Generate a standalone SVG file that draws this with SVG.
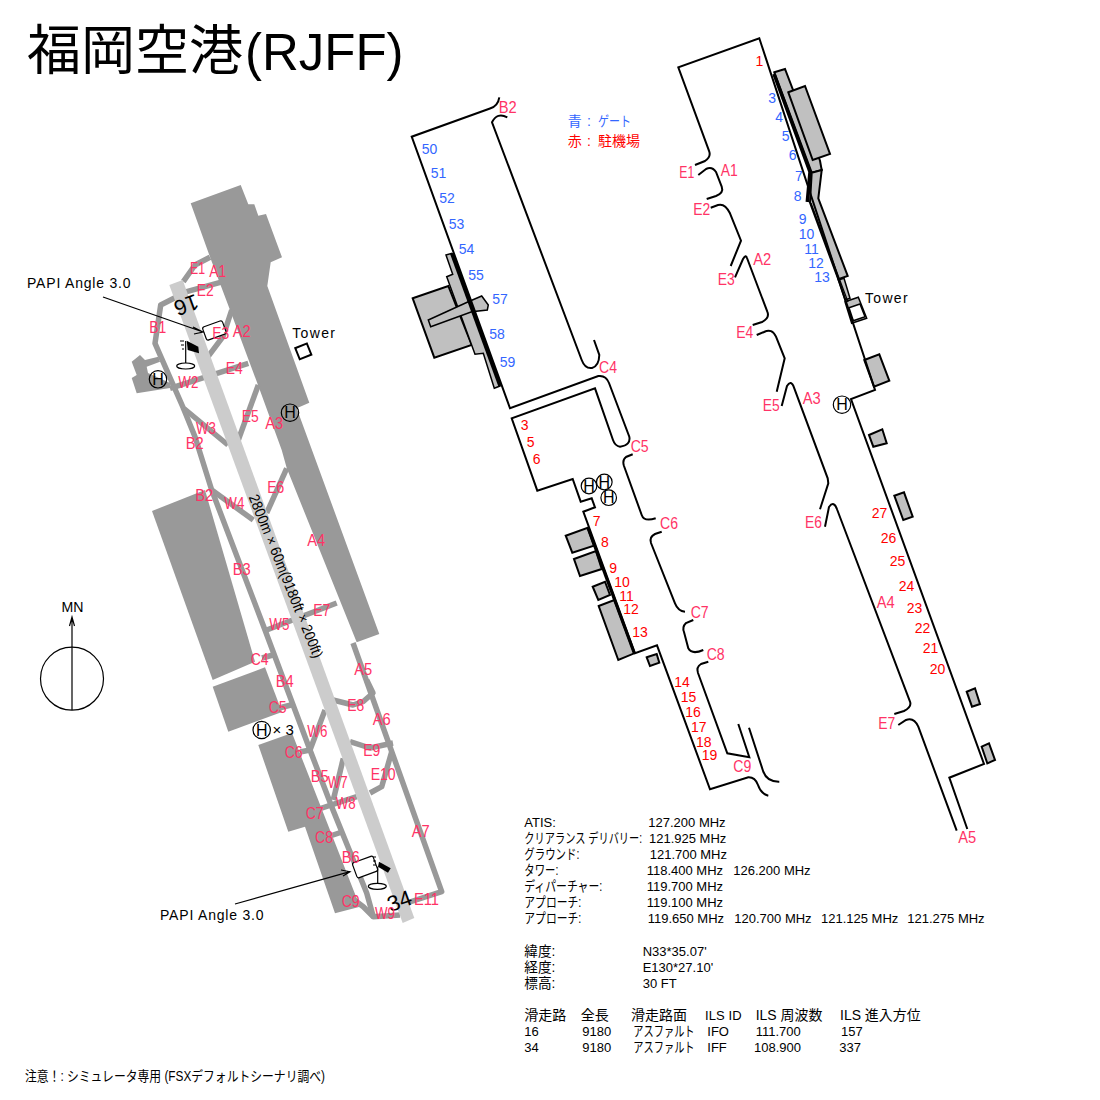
<svg xmlns="http://www.w3.org/2000/svg" width="1100" height="1100" viewBox="0 0 1100 1100">
<style>
text{font-family:"Liberation Sans","Noto Sans CJK JP",sans-serif;fill:#000}
.ap{fill:#999}
.tw{fill:none;stroke:#999;stroke-width:5.5;stroke-linejoin:round}
.rw{fill:#ccc}
.o{fill:none;stroke:#000;stroke-width:2;stroke-linejoin:miter}
.thk{fill:none;stroke:#000;stroke-width:3.5}
.b{fill:#c0c0c0;stroke:#000;stroke-width:2;stroke-linejoin:miter}
.ln{fill:none;stroke:#000;stroke-width:1.2}
.h{fill:#fff;stroke:#000;stroke-width:1.2}
.h1{fill:none;stroke:#000;stroke-width:1.2}
.hl{font-size:16px;text-anchor:middle}
.l{font-size:17px;fill:#ff3366}
.g{font-size:14px;fill:#3366ff}
.s{font-size:14px;fill:#f00}
.i{font-size:13px}
.k{font-size:14px}
.p{font-size:14px;letter-spacing:.4px}
</style>
<text id="title" x="27" y="70" font-size="54">福岡空港<tspan dx="2" font-size="51">(RJFF)</tspan></text>

<g id="north">
<circle class="ln" cx="72" cy="678.7" r="31.5"/>
<path class="ln" d="M72 710V618M69.5 626L72 617L74.5 626"/>
<text x="61.5" y="612.3" font-size="14.5" textLength="22" lengthAdjust="spacingAndGlyphs">MN</text>
</g>

<g id="overview">
<polygon class="ap" points="152,511 205,490 255,661.7 212.7,680"/>
<polygon class="ap" points="212.7,686.7 265,667.3 282,712 228.3,731.7"/>
<polygon class="ap" points="258.3,745 292,733 360,906.7 335,913.3 305,826.7 288.3,831.7"/>
<polygon class="ap" points="190.7,203.3 240.7,185 248.3,204.3 254.3,204.3 258.3,215.7 266,214 282,257.3 270.7,262.3 267.3,286 309.3,402.7 296.7,408.3 379.3,634 356.7,642.3 286.7,468 281.7,450 258,385 230,310 210,257"/>
<polygon class="ap" points="131.7,361.7 140,355 145,360 158.3,356.7 160,361.7 146.7,366.7 148,373 170,383 170,388 136.7,393.3 131.7,378 136.7,375"/>
<g id="overview-taxiways">
<path class="tw" d="M210 257.3L195 265L183.3 281.7"/>
<path class="tw" d="M223 281.7L186.7 291.7L160.7 305L155 343.3L183.3 408L228 445"/>
<path class="tw" d="M183.3 408L195 436.7L211.7 490L265 630L286.7 688L310 750L333 810L366.7 893L373.3 916.7L400 915"/>
<path class="tw" d="M231.7 310L223 336.7L208 356.7"/>
<path class="tw" d="M248.3 363.3L170 388.3"/>
<path class="tw" d="M258.3 385L238.3 440"/>
<path class="tw" d="M286.7 468.3L266.7 513"/>
<path class="tw" d="M211.7 490L253.3 520"/>
<path class="tw" d="M336.7 603L266.7 630"/>
<path class="tw" d="M262 658L273 655"/>
<path class="tw" d="M279 708L291 705"/>
<path class="tw" d="M353 643L441.7 891.7L406.7 903"/>
<path class="tw" d="M366.7 680L373 693L363 701.7L353 705L333 700"/>
<path class="tw" d="M350 741.7L370 748L393 743"/>
<path class="tw" d="M391.7 751.7L381.7 786.7L370 793"/>
<path class="tw" d="M325 710L310 750L300 752"/>
<path class="tw" d="M343.3 758.3L333.3 800"/>
<path class="tw" d="M356.7 796.7L306.7 813"/>
<path class="tw" d="M318 840L342 832"/>
<path class="tw" d="M350 896.7L363.3 906.7L373.3 916.7"/>
</g>
<polygon class="rw" points="169.3,285 182.7,280 414.3,918 402.7,923"/>
<text x="0" y="0" font-size="15" textLength="175" lengthAdjust="spacingAndGlyphs" transform="translate(248.4,497) rotate(68)">2800m × 60m(9180ft × 200ft)</text>
<text font-size="22" text-anchor="middle" transform="translate(183.7,298) rotate(160)">16</text>
<text font-size="22" text-anchor="middle" transform="translate(402,908) rotate(-20)">34</text>

<g id="papi-n">
<rect class="h" x="204" y="323.5" width="21" height="14" rx="2" transform="rotate(-20 214.3 330.7)"/>
<path class="ln" d="M103 297L203 332M193 327L203 332L194 334"/>
<path class="ln" d="M185.7 341V365"/>
<ellipse class="h" cx="185.7" cy="366" rx="9" ry="3"/>
<polygon fill="#000" points="186.7,340.7 198.3,346.7 199,353.3 187.7,350"/>
<path class="ln" d="M180 341h4M181 345h3M182 349h2"/>
<text class="p" x="27" y="288" textLength="104">PAPI Angle 3.0</text>
</g>
<g id="papi-s">
<rect class="h" x="354" y="859" width="22" height="16" rx="2" transform="rotate(-20 365 866.7)"/>
<path class="ln" d="M235 904L350 871.7M341 870L350 871.7L343 876"/>
<path class="ln" d="M377.7 866.7V885"/>
<ellipse class="h" cx="377.3" cy="886.3" rx="9" ry="3"/>
<polygon fill="#000" points="379,861.7 390.7,868.3 388,872.7 378,866.7"/>
<path class="ln" d="M373 857h3M373 861h3M373 865h3"/>
<text class="p" x="160" y="920" textLength="104">PAPI Angle 3.0</text>
</g>
<g id="tower-a">
<rect x="297" y="345.5" width="12.5" height="12" fill="#fff" stroke="#000" stroke-width="2" transform="rotate(-22 303 351.3)"/>
<text class="p" x="292.3" y="337.7" textLength="43">Tower</text>
</g>
<g id="helipads-a">
<circle class="h1" cx="158" cy="379.3" r="8.7"/><text class="hl" x="158" y="385">H</text>
<circle class="h1" cx="290" cy="412.7" r="8.7"/><text class="hl" x="290" y="418.4">H</text>
<circle class="h1" cx="261.7" cy="730" r="8.7"/><text class="hl" x="261.7" y="735.7">H</text>
<text font-size="15" x="272.5" y="735">× 3</text>
</g>
<g id="overview-labels">
<text class="l" x="190" y="274" textLength="15" lengthAdjust="spacingAndGlyphs">E1</text>
<text class="l" x="209.3" y="277.3" textLength="17" lengthAdjust="spacingAndGlyphs">A1</text>
<text class="l" x="196.7" y="296" textLength="17" lengthAdjust="spacingAndGlyphs">E2</text>
<text class="l" x="149.3" y="332.7" textLength="17" lengthAdjust="spacingAndGlyphs">B1</text>
<text class="l" x="212.3" y="339.3" textLength="17" lengthAdjust="spacingAndGlyphs">E3</text>
<text class="l" x="232.7" y="336.7" textLength="18" lengthAdjust="spacingAndGlyphs">A2</text>
<text class="l" x="225.7" y="374" textLength="17" lengthAdjust="spacingAndGlyphs">E4</text>
<text class="l" x="178.3" y="388.3" textLength="20" lengthAdjust="spacingAndGlyphs">W2</text>
<text class="l" x="241.7" y="421.7" textLength="17" lengthAdjust="spacingAndGlyphs">E5</text>
<text class="l" x="265.3" y="429.3" textLength="18" lengthAdjust="spacingAndGlyphs">A3</text>
<text class="l" x="196" y="434" textLength="20" lengthAdjust="spacingAndGlyphs">W3</text>
<text class="l" x="185.7" y="449.3" textLength="18" lengthAdjust="spacingAndGlyphs">B2</text>
<text class="l" x="195.3" y="501" textLength="18" lengthAdjust="spacingAndGlyphs">B2</text>
<text class="l" x="224.3" y="509" textLength="20" lengthAdjust="spacingAndGlyphs">W4</text>
<text class="l" x="267.3" y="493.3" textLength="17" lengthAdjust="spacingAndGlyphs">E6</text>
<text class="l" x="307.3" y="546" textLength="18" lengthAdjust="spacingAndGlyphs">A4</text>
<text class="l" x="232.7" y="575" textLength="18" lengthAdjust="spacingAndGlyphs">B3</text>
<text class="l" x="313.3" y="616" textLength="17" lengthAdjust="spacingAndGlyphs">E7</text>
<text class="l" x="269.3" y="630" textLength="20" lengthAdjust="spacingAndGlyphs">W5</text>
<text class="l" x="250.7" y="665" textLength="18" lengthAdjust="spacingAndGlyphs">C4</text>
<text class="l" x="354.3" y="675" textLength="18" lengthAdjust="spacingAndGlyphs">A5</text>
<text class="l" x="275.7" y="686.7" textLength="18" lengthAdjust="spacingAndGlyphs">B4</text>
<text class="l" x="268.7" y="713.3" textLength="18" lengthAdjust="spacingAndGlyphs">C5</text>
<text class="l" x="347.3" y="711" textLength="17" lengthAdjust="spacingAndGlyphs">E8</text>
<text class="l" x="372.7" y="725" textLength="18" lengthAdjust="spacingAndGlyphs">A6</text>
<text class="l" x="307.3" y="737.3" textLength="20" lengthAdjust="spacingAndGlyphs">W6</text>
<text class="l" x="284.7" y="758.3" textLength="18" lengthAdjust="spacingAndGlyphs">C6</text>
<text class="l" x="363.3" y="755.7" textLength="17" lengthAdjust="spacingAndGlyphs">E9</text>
<text class="l" x="370.7" y="780" textLength="25" lengthAdjust="spacingAndGlyphs">E10</text>
<text class="l" x="310.7" y="781.7" textLength="18" lengthAdjust="spacingAndGlyphs">B5</text>
<text class="l" x="327.7" y="788.3" textLength="20" lengthAdjust="spacingAndGlyphs">W7</text>
<text class="l" x="335.7" y="809" textLength="20" lengthAdjust="spacingAndGlyphs">W8</text>
<text class="l" x="305.7" y="819.3" textLength="18" lengthAdjust="spacingAndGlyphs">C7</text>
<text class="l" x="411.7" y="836.7" textLength="18" lengthAdjust="spacingAndGlyphs">A7</text>
<text class="l" x="315" y="843.3" textLength="18" lengthAdjust="spacingAndGlyphs">C8</text>
<text class="l" x="341.7" y="862.7" textLength="18" lengthAdjust="spacingAndGlyphs">B6</text>
<text class="l" x="341.7" y="907.3" textLength="18" lengthAdjust="spacingAndGlyphs">C9</text>
<text class="l" x="414" y="905" textLength="25" lengthAdjust="spacingAndGlyphs">E11</text>
<text class="l" x="375" y="919.3" textLength="20" lengthAdjust="spacingAndGlyphs">W9</text>
</g>
</g>

<g id="west-apron">
<polygon class="b" points="412.7,298.3 448.3,286 471.7,345 434.3,357.7"/>
<polygon class="b" style="stroke-width:1.5" points="446,255 451.7,253.3 500,386 494.3,388.3 483.3,353.3 475,354.3 446.7,276.7 452.7,274.3"/>
<polygon class="b" style="stroke-width:1.5" points="428.3,320 468.3,301.7 481.7,296 488.3,305 487.3,310 471.7,311.7 430.7,326.7"/>
<path class="thk" d="M451.7 253.3L500 386"/>
<polygon class="b" points="565.7,535.7 587.7,527.7 594,545.7 572.3,552.7"/>
<polygon class="b" points="574,559 596,551 601.7,569 580,576"/>
<polygon class="b" points="592.7,586.7 605,581.7 610,595 598.3,600"/>
<polygon class="b" points="598.7,606 614.3,600 634.3,653.3 618.3,660"/>
<polygon class="b" points="646.7,657.3 656.7,654 659.3,662.7 650,666"/>
<path class="o" d="M499.3 97.3Q498 106 490 108.5L411.7 136.7L510 408.3L598.3 376Q606 375 609 383L629.3 436.7Q631 445 620 446.7Q615 446 613 440L595 388.3L511.7 418.3L537.3 490.7L572.7 479L580.7 501.7L591.7 498.3L595 507.3L583.3 511.7L635 653.3L657 645.3L710 789.3L748.3 777.3Q755 777 758 785Q761 794 768.3 795.7"/>
<path class="o" d="M507.3 117.3Q497 112 492 122.3L581.7 360Q585 369 592 368Q599 366 599.3 355L594 340"/>
<path class="o" d="M632.7 454.3L626 457Q622 460 624 466L641.7 515Q644 522 655.7 518.3"/>
<path class="o" d="M661.7 531.7L655 534Q649 537 651 543L675 603.3Q678 611 685 611.7"/>
<path class="o" d="M693.3 620L686 623Q682 627 684 632L688.3 648.3Q692 655 703.3 650"/>
<path class="o" d="M708.3 661.7L701 664Q696 667 698 673L727.3 753.3L749.3 757.3L738.3 724"/>
<path class="o" d="M749 727.7L763.3 771.7Q767 782 779.3 781.7"/>
<path class="thk" style="stroke-width:3" d="M588 528L634.3 653.3"/>
<g id="helipads-b">
<circle class="h" cx="589" cy="486" r="7.8"/><text class="hl" x="589" y="491.7">H</text>
<circle class="h" cx="604.3" cy="482" r="7.8"/><text class="hl" x="604.3" y="487.7">H</text>
<circle class="h" cx="608.7" cy="497.7" r="7.8"/><text class="hl" x="608.7" y="503.4">H</text>
</g>
<g id="west-labels">
<text class="l" x="498.7" y="112.7" textLength="18" lengthAdjust="spacingAndGlyphs">B2</text>
<text class="l" x="599" y="373.3" textLength="18" lengthAdjust="spacingAndGlyphs">C4</text>
<text class="l" x="630.7" y="452.3" textLength="18" lengthAdjust="spacingAndGlyphs">C5</text>
<text class="l" x="660" y="529.3" textLength="18" lengthAdjust="spacingAndGlyphs">C6</text>
<text class="l" x="690.7" y="618.3" textLength="18" lengthAdjust="spacingAndGlyphs">C7</text>
<text class="l" x="706.7" y="660" textLength="18" lengthAdjust="spacingAndGlyphs">C8</text>
<text class="l" x="733.3" y="771.7" textLength="18" lengthAdjust="spacingAndGlyphs">C9</text>
</g>
<g id="west-gates">
<text class="g" x="421.7" y="154">50</text><text class="g" x="430.7" y="178.3">51</text><text class="g" x="439.3" y="203.3">52</text><text class="g" x="448.7" y="229">53</text><text class="g" x="458.7" y="254">54</text><text class="g" x="468.3" y="280">55</text><text class="g" x="492.3" y="304">57</text><text class="g" x="489.3" y="339.3">58</text><text class="g" x="499.7" y="367.3">59</text>
</g>
<g id="west-stands">
<text class="s" x="520.7" y="430">3</text><text class="s" x="526.7" y="447.3">5</text><text class="s" x="532.7" y="464.3">6</text><text class="s" x="592.7" y="526">7</text><text class="s" x="601" y="547.3">8</text><text class="s" x="609.3" y="573.3">9</text><text class="s" x="614.3" y="587.3">10</text><text class="s" x="619.3" y="601">11</text><text class="s" x="623.3" y="614">12</text><text class="s" x="632.3" y="636.7">13</text><text class="s" x="674.3" y="687.3">14</text><text class="s" x="680.7" y="701.7">15</text><text class="s" x="685.3" y="716.7">16</text><text class="s" x="691" y="731.7">17</text><text class="s" x="696" y="746.7">18</text><text class="s" x="701.7" y="760">19</text>
</g>
</g>
<g id="legend">
<text class="g" y="126"><tspan x="567.7">青</tspan><tspan x="587">:</tspan><tspan x="598" textLength="33" lengthAdjust="spacingAndGlyphs">ゲート</tspan></text>
<text class="s" y="146"><tspan x="567.7">赤</tspan><tspan x="587">:</tspan><tspan x="598">駐機場</tspan></text>
</g>

<g id="east-apron">
<polygon class="b" points="774.3,72.3 785,69 820,160.7 821.7,170 811.7,172.7"/>
<polygon class="b" points="788.3,92.3 805,86 830,154 812.7,160"/>
<polygon class="b" points="811.7,172.7 821.7,170 818.3,198.3 847.7,276 838.3,279.3 810,202.7"/>
<polygon class="b" style="stroke-width:1.5" points="838.3,280 844,278.3 850,298.3 845,300"/>
<polygon class="b" style="stroke-width:1.5" points="845,301.7 858.3,297.3 866.7,318.3 851.7,323.3"/>
<polygon fill="#fff" stroke="#000" stroke-width="1.5" points="849,307.7 860,304 865,316.7 853.3,320.7"/>
<polygon class="b" points="864.3,360 879.3,354.3 889.3,380.7 874,386.7"/>
<polygon class="b" points="869,435 882.3,429.3 886.7,443.3 873.3,446.7"/>
<polygon class="b" points="894.3,495.7 904,492.3 912.7,516.7 903.3,520"/>
<polygon class="b" points="966.7,691.7 975,688.3 980,704 972,706.7"/>
<polygon class="b" points="981.7,746.7 989,743.3 995,760 987.3,763.3"/>
<path class="o" d="M695 165L705 161Q711 157 709.3 151.7L678.3 67.3L759.3 38.3L875 390L851 399L984 764L949.3 777.7L967.3 829"/>
<path class="o" d="M956.7 830.7L918.3 726.7Q914 717 906 720L898.3 725"/>
<path class="o" d="M894.3 714L904 711Q912 707 910 701.7L837.3 510Q834 500 829 507L825 526.7"/>
<path class="o" d="M820 509.3L828.3 483.3L827.7 478.3L794.3 388.3Q791 379 787 386L781.7 406"/>
<path class="o" d="M776.7 391.7L784.7 358.3L776 336.7Q772 328 764 332L756.7 335"/>
<path class="o" d="M752.7 325L762 322Q770 318 767.3 311.7L747 258Q746 254 743 259L735 277.3"/>
<path class="o" d="M730.7 266L741 240.7L730 213.3Q725 203 718 205L710.7 207.7"/>
<path class="o" d="M706.7 199L716 196Q724 193 721.7 186.7L716 172Q712 166 706 169L698.3 175"/>
<path class="thk" d="M774 74L810 172L807.3 202"/>
<path class="ln" d="M811 203L848 302"/>
<circle class="h" cx="842" cy="404.7" r="8.7"/><text class="hl" x="842" y="410.4">H</text>
<text class="p" x="865" y="303.3" textLength="43">Tower</text>
<g id="east-labels">
<text class="l" x="679.3" y="178.3" textLength="15" lengthAdjust="spacingAndGlyphs">E1</text>
<text class="l" x="720.7" y="175.7" textLength="17" lengthAdjust="spacingAndGlyphs">A1</text>
<text class="l" x="693.3" y="215" textLength="17" lengthAdjust="spacingAndGlyphs">E2</text>
<text class="l" x="753.3" y="265" textLength="18" lengthAdjust="spacingAndGlyphs">A2</text>
<text class="l" x="717.7" y="285" textLength="17" lengthAdjust="spacingAndGlyphs">E3</text>
<text class="l" x="736.3" y="337.7" textLength="17" lengthAdjust="spacingAndGlyphs">E4</text>
<text class="l" x="762.7" y="411" textLength="17" lengthAdjust="spacingAndGlyphs">E5</text>
<text class="l" x="802.7" y="404" textLength="18" lengthAdjust="spacingAndGlyphs">A3</text>
<text class="l" x="805" y="528.3" textLength="17" lengthAdjust="spacingAndGlyphs">E6</text>
<text class="l" x="876.7" y="607.7" textLength="18" lengthAdjust="spacingAndGlyphs">A4</text>
<text class="l" x="878.3" y="729" textLength="17" lengthAdjust="spacingAndGlyphs">E7</text>
<text class="l" x="958.3" y="843.3" textLength="18" lengthAdjust="spacingAndGlyphs">A5</text>
</g>
<g id="east-gates">
<text class="g" x="768.3" y="103.3">3</text><text class="g" x="775.3" y="121.7">4</text><text class="g" x="781.7" y="141">5</text><text class="g" x="788.7" y="160">6</text><text class="g" x="795" y="181">7</text><text class="g" x="793.7" y="201">8</text><text class="g" x="798.7" y="224">9</text><text class="g" x="798.7" y="239">10</text><text class="g" x="804.3" y="254">11</text><text class="g" x="808.3" y="268.3">12</text><text class="g" x="814.3" y="282.3">13</text>
</g>
<g id="east-stands">
<text class="s" x="755.5" y="66">1</text><text class="s" x="871.7" y="518.3">27</text><text class="s" x="880.7" y="542.7">26</text><text class="s" x="889.7" y="566">25</text><text class="s" x="898.7" y="590.7">24</text><text class="s" x="906.7" y="612.7">23</text><text class="s" x="914.7" y="632.7">22</text><text class="s" x="922.7" y="652.7">21</text><text class="s" x="929.7" y="674">20</text>
</g>
</g>

<g id="info">
<text class="i" x="524.3" y="827.3">ATIS:</text><text class="i" x="648.3" y="827.3">127.200 MHz</text>
<text class="k" transform="translate(524.3,843.3) scale(.73,1)">クリアランス デリバリー:</text><text class="i" x="649" y="843.3">121.925 MHz</text>
<text class="k" x="524.3" y="859.3" textLength="55" lengthAdjust="spacingAndGlyphs">グラウンド:</text><text class="i" x="649.7" y="859.3">121.700 MHz</text>
<text class="k" x="524.3" y="875.3" textLength="34" lengthAdjust="spacingAndGlyphs">タワー:</text><text class="i" x="646.7" y="875.3">118.400 MHz</text><text class="i" x="733.3" y="875.3">126.200 MHz</text>
<text class="k" x="524.3" y="891.3" textLength="78" lengthAdjust="spacingAndGlyphs">ディパーチャー:</text><text class="i" x="646.7" y="891.3">119.700 MHz</text>
<text class="k" x="524.3" y="907.3" textLength="57" lengthAdjust="spacingAndGlyphs">アプローチ:</text><text class="i" x="646.7" y="907.3">119.100 MHz</text>
<text class="k" x="524.3" y="923.3" textLength="57" lengthAdjust="spacingAndGlyphs">アプローチ:</text><text class="i" x="647.7" y="923.3">119.650 MHz</text><text class="i" x="734.3" y="923.3">120.700 MHz</text><text class="i" x="821" y="923.3">121.125 MHz</text><text class="i" x="907.3" y="923.3">121.275 MHz</text>
<text class="k" x="524.3" y="956" textLength="31" lengthAdjust="spacingAndGlyphs">緯度:</text><text class="i" x="642.7" y="956">N33*35.07'</text>
<text class="k" x="524.3" y="972" textLength="31" lengthAdjust="spacingAndGlyphs">経度:</text><text class="i" x="642.7" y="972">E130*27.10'</text>
<text class="k" x="524.3" y="988" textLength="31" lengthAdjust="spacingAndGlyphs">標高:</text><text class="i" x="642.7" y="988">30 FT</text>
<text class="k" x="524.3" y="1020">滑走路</text><text class="k" x="580.7" y="1020">全長</text><text class="k" x="631" y="1020">滑走路面</text><text class="i" x="705" y="1020" textLength="36.7">ILS ID</text><text class="k" x="755.7" y="1020" textLength="66.7" lengthAdjust="spacingAndGlyphs">ILS 周波数</text><text class="k" x="840" y="1020" textLength="80.7" lengthAdjust="spacingAndGlyphs">ILS 進入方位</text>
<text class="i" x="524.3" y="1036">16</text><text class="i" x="582.3" y="1036">9180</text><text class="k" transform="translate(633.3,1036) scale(.73,1)">アスファルト</text><text class="i" x="707.3" y="1036">IFO</text><text class="i" x="755.7" y="1036">111.700</text><text class="i" x="841" y="1036">157</text>
<text class="i" x="524.3" y="1052">34</text><text class="i" x="582.3" y="1052">9180</text><text class="k" transform="translate(633.3,1052) scale(.73,1)">アスファルト</text><text class="i" x="707.3" y="1052">IFF</text><text class="i" x="754" y="1052">108.900</text><text class="i" x="839.3" y="1052">337</text>
<text class="k" x="25" y="1081" textLength="300" lengthAdjust="spacingAndGlyphs">注意！: シミュレータ専用 (FSXデフォルトシーナリ調べ)</text>
</g>
</svg>
